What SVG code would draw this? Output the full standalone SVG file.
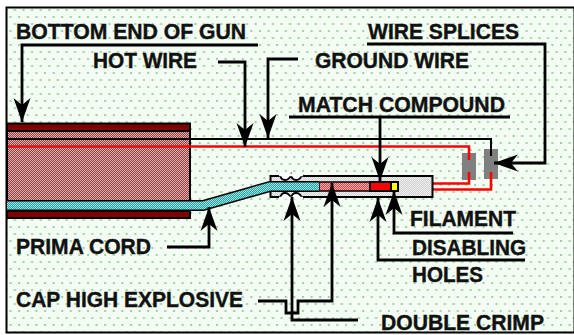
<svg xmlns="http://www.w3.org/2000/svg" width="574" height="335" viewBox="0 0 574 335">
<style>
text{font-family:"Liberation Sans",Arial,sans-serif;font-weight:700;font-size:21.500px;fill:#111;stroke:#111;stroke-width:.4px}
.c{fill:none;stroke:#000;stroke-width:2.800}
.k{fill:none;stroke:#000;stroke-width:2}
.r{fill:none;stroke:#f00;stroke-width:2.600}
.o{stroke:#000;stroke-width:2}
</style>
<defs>
<pattern id="bg" width="8.600" height="14" patternUnits="userSpaceOnUse">
<rect width="8.600" height="14" fill="#f4fdf4"/>
<rect x="1" y="2" width="2" height="2" fill="#9fcf9f"/>
<rect x="5.300" y="9" width="2" height="2" fill="#9fcf9f"/>
</pattern>
<pattern id="br" width="2" height="2" patternUnits="userSpaceOnUse">
<rect width="2" height="2" fill="#943c3c"/>
<rect width="1" height="1" fill="#e0b4b4"/>
<rect x="1" y="1" width="1" height="1" fill="#e0b4b4"/>
</pattern>
<pattern id="te" width="2" height="2" patternUnits="userSpaceOnUse">
<rect width="2" height="2" fill="#20a0a0"/>
<rect width="1" height="1" fill="#a0e4e4"/>
<rect x="1" y="1" width="1" height="1" fill="#a0e4e4"/>
</pattern>
<pattern id="pk" width="2" height="2" patternUnits="userSpaceOnUse">
<rect width="2" height="2" fill="#e04040"/>
<rect width="1" height="1" fill="#f0b0b0"/>
<rect x="1" y="1" width="1" height="1" fill="#f0b0b0"/>
</pattern>
<pattern id="gr" width="2" height="2" patternUnits="userSpaceOnUse">
<rect width="2" height="2" fill="#d0d0d0"/>
<rect width="1" height="1" fill="#f0f0f0"/>
<rect x="1" y="1" width="1" height="1" fill="#f0f0f0"/>
</pattern>
<marker id="a" markerUnits="userSpaceOnUse" markerWidth="26" markerHeight="18" refX="25" refY="9" orient="auto" viewBox="0 0 26 18">
<path d="M25 9 L1 .500 L8 9 L1 17.500 Z" fill="#000"/>
</marker>
</defs>
<rect id="background" x="6.500" y="7.500" width="568" height="325" fill="url(#bg)" stroke="#000" stroke-width="2"/>
<g id="gun">
<rect x="7" y="131" width="183" height="70" fill="url(#br)" stroke="#000" stroke-width="2"/>
<rect x="7" y="123.500" width="183" height="7.500" fill="#800000" class="o"/>
<rect x="7" y="211" width="183" height="7" fill="#800000" class="o"/>
</g>
<g id="wires">
<path class="k" d="M8 139H491V156"/>
<path class="r" d="M8 146.500H469V160"/>
<path class="r" d="M398 183.500H469V172"/>
<path class="r" d="M398 189.500H491V178"/>
</g>
<g id="splices">
<rect x="462" y="153" width="14" height="27" fill="#808080"/>
<rect x="484" y="149" width="14" height="30" fill="#808080"/>
<path d="M469 153V160" stroke="#f00" stroke-width="2.600"/>
<path d="M469 172V180" stroke="#f00" stroke-width="2.600"/>
<path d="M491 149V156" stroke="#000" stroke-width="2"/>
<path d="M491 179V172" stroke="#f00" stroke-width="2.600"/>
</g>
<g id="cap">
<rect x="270.500" y="176" width="162" height="21" fill="url(#gr)" class="o"/>
<path d="M280 175q1 5 5 5t6 -5q1 5 5 5t6 -5z" fill="#fff" stroke="#000" stroke-width="1.800"/>
<path d="M280 198q1 -5 5 -5t6 5q1 -5 5 -5t6 5z" fill="#fff" stroke="#000" stroke-width="1.800"/>
<path d="M279 175h24M279 198h24" stroke="#fff" stroke-width="2.500"/>
<rect x="319" y="182" width="51" height="9" fill="url(#pk)" stroke="#000" stroke-width="1.500"/>
<rect x="370" y="182" width="21" height="9" fill="#f00" class="o"/>
<rect x="391" y="182" width="7" height="9" fill="#ff0" class="o"/>
</g>
<g id="cord">
<path d="M7 205.500H203L247 193L270 186.500H319" fill="none" stroke="#000" stroke-width="11"/>
<path d="M7 205.500H203L247 193L270 186.500H319" fill="none" stroke="url(#te)" stroke-width="8"/>
</g>
<g id="connectors">
<path class="c" d="M258 45H22V122" marker-end="url(#a)"/>
<path class="c" d="M218 62H245V147" marker-end="url(#a)"/>
<path class="c" d="M298 59H268V138" marker-end="url(#a)"/>
<path class="c" d="M367 44H545V163H494" marker-end="url(#a)"/>
<path class="c" d="M289 117H510"/>
<path class="c" d="M380 117V181" marker-end="url(#a)"/>
<path class="c" d="M513 233H394V191" marker-end="url(#a)"/>
<path class="c" d="M525 260H378V198" marker-end="url(#a)"/>
<path class="c" d="M258 301H286V313H298V301H332V183" marker-end="url(#a)"/>
<path class="c" d="M358 320H292V197" marker-end="url(#a)"/>
<path class="c" d="M167 247H209V207" marker-end="url(#a)"/>
</g>
<g id="labels">
<text x="16" y="39" textLength="230" lengthAdjust="spacingAndGlyphs">BOTTOM END OF GUN</text>
<text x="93" y="68" textLength="104" lengthAdjust="spacingAndGlyphs">HOT WIRE</text>
<text x="315" y="68" textLength="154" lengthAdjust="spacingAndGlyphs">GROUND WIRE</text>
<text x="368" y="39" textLength="151" lengthAdjust="spacingAndGlyphs">WIRE SPLICES</text>
<text x="298" y="112" textLength="207" lengthAdjust="spacingAndGlyphs">MATCH COMPOUND</text>
<text x="410" y="226" textLength="106" lengthAdjust="spacingAndGlyphs">FILAMENT</text>
<text x="412" y="255" textLength="114" lengthAdjust="spacingAndGlyphs">DISABLING</text>
<text x="412" y="282" textLength="71" lengthAdjust="spacingAndGlyphs">HOLES</text>
<text x="381" y="330" textLength="163" lengthAdjust="spacingAndGlyphs">DOUBLE CRIMP</text>
<text x="16" y="254" textLength="135" lengthAdjust="spacingAndGlyphs">PRIMA CORD</text>
<text x="16" y="307" textLength="227" lengthAdjust="spacingAndGlyphs">CAP HIGH EXPLOSIVE</text>
</g>
</svg>
